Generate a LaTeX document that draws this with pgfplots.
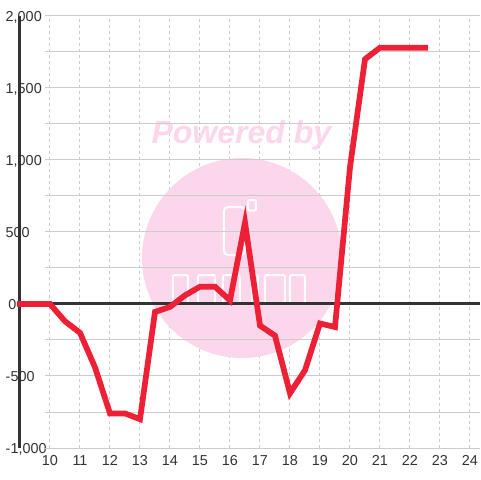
\documentclass[border=0pt]{standalone}
\usepackage{fontspec}
\setmainfont{Liberation Sans}
\usepackage{pgfplots}
\pgfplotsset{compat=1.18}
\definecolor{linered}{HTML}{EE2035}
\definecolor{axisdark}{HTML}{333333}
\definecolor{gridgray}{HTML}{CCCCCC}
\definecolor{wmpink}{HTML}{FCD6EB}
\begin{document}
\begin{tikzpicture}
% watermark behind the chart
\fill[wmpink] (181.5pt,166.5pt) circle[radius=75pt];
\node[text=wmpink, font=\fontsize{24}{28}\selectfont\bfseries\itshape] at (181pt,258.75pt) {Powered by};
\draw[white, line width=1.5pt, rounded corners=3pt] (168pt,168.75pt) rectangle (183.75pt,204.75pt);
\draw[white, line width=1.5pt, rounded corners=1.5pt] (186pt,202pt) rectangle (192pt,210pt);
\foreach \a/\b in {129.75/141,148.5/161.25,167.25/180,189/193.5,198.75/213.75,217.5/228.75}
  \draw[white, line width=1.5pt, rounded corners=1.5pt] (\a pt,132.75pt) rectangle (\b pt,153.75pt);
\begin{axis}[
  at={(15pt,24pt)}, anchor=south west,
  x=22.5pt, y=0.108pt,
  xmin=9, xmax=24.3333, ymin=-1000, ymax=2000,
  set layers, clip=false,
  axis line style={draw=none},
  major tick length=0pt,
  xtick={10,11,12,13,14,15,16,17,18,19,20,21,22,23,24},
  xticklabels={10,11,12,13,14,15,16,17,18,19,20,21,22,23,24},
  ytick={-1000,-500,0,500,1000,1500,2000},
  yticklabels={{-1,000},{-500},{\hspace{2pt}0},{500},{1,000},{1,500},{2,000}},
  xmajorgrids,
  grid style={draw=gridgray, dash pattern=on 2.25pt off 2.25pt, line width=0.75pt},
  tick label style={font=\fontsize{10.8}{12}\selectfont, text=axisdark},
  xticklabel style={anchor=center, yshift=-9.5pt},
  yticklabel style={anchor=west, xshift=-11.7pt, fill=white, inner xsep=0.8pt, inner ysep=1pt, text depth=0pt},
]
% horizontal grid lines, they start a little right of the axis
\pgfplotsinvokeforeach{-1000,-750,-500,-250,0,250,500,750,1000,1250,1500,1750,2000}{
  \draw[on layer=axis grid, gridgray, line width=0.75pt] (9.8333,#1) -- (24.3333,#1);
}
\draw[on layer=axis lines, axisdark, line width=2.25pt] (9,-1000) -- (9,2000);
\draw[axisdark, line width=2.25pt] (9,0) -- (24.3333,0);
\addplot[linered, line width=4.3pt, line cap=rect, line join=miter] coordinates {
  (9,0) (10,0) (10.5,-120) (11,-200) (11.5,-440) (12,-760) (12.5,-760) (13,-800)
  (13.5,-55) (14,-20) (14.5,60) (15,120) (15.5,120) (16,25) (16.5,565) (17,-150)
  (17.5,-220) (18,-620) (18.5,-460) (19,-135) (19.5,-160) (20,950) (20.5,1700)
  (21,1780) (21.5,1780) (22,1780) (22.5,1780)
};
\end{axis}
\pgfresetboundingbox
\path (0,0) rectangle (360pt,360pt);
\end{tikzpicture}
\end{document}
